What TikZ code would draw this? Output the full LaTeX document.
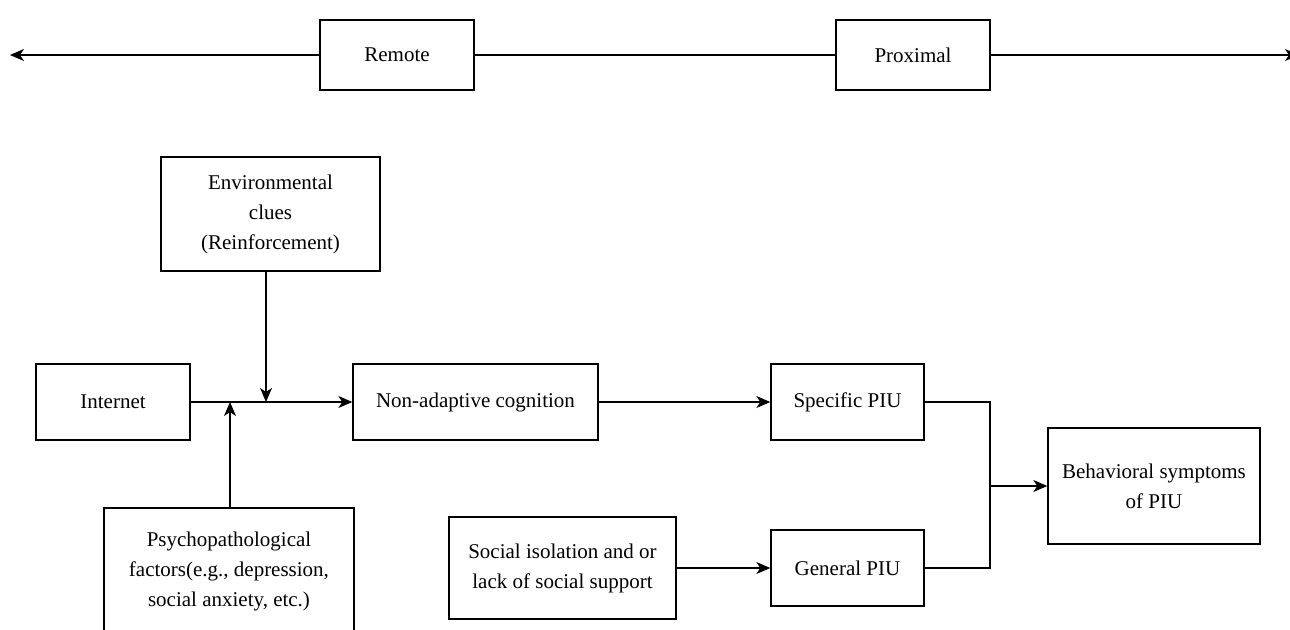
\documentclass[tikz,border=0pt]{standalone}
\usepackage{fontspec}
\setmainfont{Liberation Serif}
\usepackage{tikz}
\usetikzlibrary{arrows.meta, positioning, calc}

\tikzset{
  stagebox/.style={draw=black, line width=1.4pt, fill=white, align=center,
    inner sep=2pt, font=\fontsize{21}{30}\selectfont},
  flowarrow/.style={line width=1.4pt, -{Stealth[length=14pt, width=12pt, inset=4pt]}},
  flowline/.style={line width=1.4pt}
}

\begin{document}
\begin{tikzpicture}[x=1pt, y=-1pt]
    \useasboundingbox (0,0) rectangle (1290,629);
    \clip (0,0) rectangle (1290,629);

    % time axis
    \coordinate (axisL) at (10,55);
    \coordinate (axisR) at (1299,55);
    \draw[flowline, {Stealth[length=14pt, width=12pt, inset=4pt]}-{Stealth[length=14pt, width=12pt, inset=4pt]}] (axisL) -- (axisR);
    \node[stagebox, minimum width=154pt, minimum height=70pt] (remote) at (397,55) {Remote};
    \node[stagebox, minimum width=154pt, minimum height=70pt] (proximal) at (913,55) {Proximal};

    % boxes
    \node[stagebox, minimum width=219pt, minimum height=114pt] (env) at (270.5,214) {Environmental\\clues\\(Reinforcement)};
    \node[stagebox, minimum width=154pt, minimum height=76pt] (internet) at (113,402) {Internet};
    \node[stagebox, minimum width=245pt, minimum height=76pt] (cognition) at (475.5,402) {Non-adaptive cognition};
    \node[stagebox, minimum width=153pt, minimum height=76pt] (specific) at (847.5,402) {Specific PIU};
    \node[stagebox, minimum width=212pt, minimum height=116pt] (symptoms) at (1154,486) {Behavioral symptoms\\of PIU};
    \node[stagebox, minimum width=250pt, minimum height=126pt] (psycho) at (229,571) {Psychopathological\\factors(e.g., depression,\\social anxiety, etc.)};
    \node[stagebox, minimum width=227pt, minimum height=102pt] (isolation) at (562.5,568) {Social isolation and or\\lack of social support};
    \node[stagebox, minimum width=153pt, minimum height=76pt] (general) at (847.5,568) {General PIU};

    % junctions
    \coordinate (envin) at (env.south -| 266,0);
    \coordinate (psyin) at (psycho.north -| 230,0);
    \coordinate (merge) at (990,486);

    \draw[flowarrow] (internet) -- (cognition);
    \draw[flowarrow] (envin) -- (envin |- internet.east);
    \draw[flowarrow] (psyin) -- (psyin |- internet.east);
    \draw[flowarrow] (cognition) -- (specific);
    \draw[flowarrow] (isolation) -- (general);
    \draw[flowline] (specific.east) -| (merge);
    \draw[flowline] (general.east) -| (merge);
    \draw[flowarrow] (merge) -- (symptoms);
\end{tikzpicture}
\end{document}
